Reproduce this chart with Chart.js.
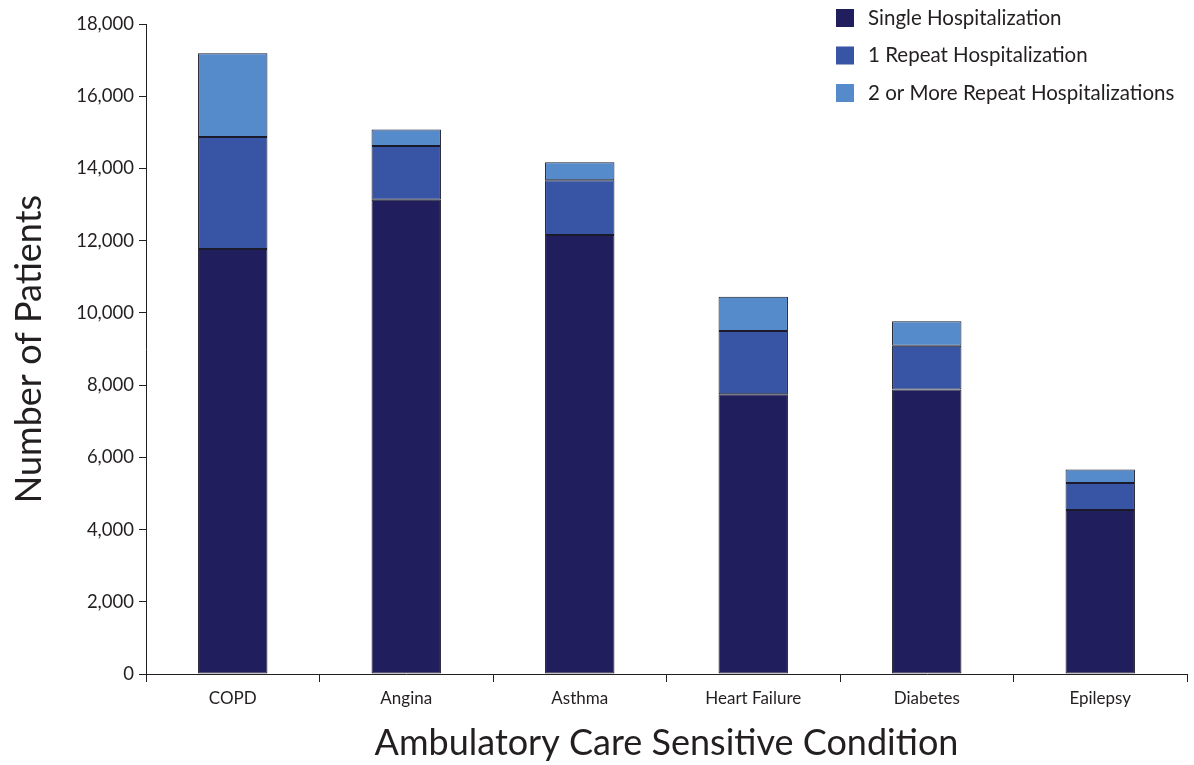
<!DOCTYPE html>
<html>
<head>
<meta charset="utf-8">
<script src="https://cdn.jsdelivr.net/npm/chart.js@4.4.0/dist/chart.umd.min.js"></script>
<style>
html,body{margin:0;padding:0;background:#fff;}
#wrap{width:1194px;height:765px;position:relative;}
</style>
</head>
<body>
<div id="wrap"><canvas id="c" width="1194" height="765"></canvas></div>
<script>
const categories = ["COPD", "Angina", "Asthma", "Heart Failure", "Diabetes", "Epilepsy"];
const singleHosp = [11770, 13130, 12160, 7750, 7880, 4540];
const oneRepeat = [3100, 1490, 1510, 1750, 1210, 750];
const twoPlusRepeat = [2320, 460, 500, 950, 680, 370];
const seriesNames = ["Single Hospitalization", "1 Repeat Hospitalization", "2 or More Repeat Hospitalizations"];
const yTicks = [0, 2000, 4000, 6000, 8000, 10000, 12000, 14000, 16000, 18000];

const FONT = "Lato, 'Open Sans', sans-serif";
const colors = ["#201E5C", "#3854A5", "#568BCB"];
const textColor = "#231F20";

const legendPlugin = {
  id: 'cornerLegend',
  afterDraw(chart) {
    const ctx = chart.ctx;
    ctx.save();
    ctx.font = "20.5px " + FONT;
    ctx.textBaseline = "middle";
    ctx.textAlign = "left";
    const x0 = 836, y0 = 18, step = 37.5, box = 18;
    chart.data.datasets.forEach((ds, i) => {
      const cy = y0 + i * step;
      ctx.fillStyle = ds.backgroundColor;
      ctx.fillRect(x0, cy - box / 2, box, box);
      ctx.fillStyle = textColor;
      ctx.fillText(ds.label, 868, cy);
    });
    ctx.restore();
  }
};

new Chart(document.getElementById('c'), {
  type: 'bar',
  data: {
    labels: categories,
    datasets: [
      { label: seriesNames[0], data: singleHosp, backgroundColor: colors[0] },
      { label: seriesNames[1], data: oneRepeat, backgroundColor: colors[1] },
      { label: seriesNames[2], data: twoPlusRepeat, backgroundColor: colors[2] }
    ].map(d => Object.assign(d, { borderColor: "#1a1a2a", borderWidth: 1, borderSkipped: false, categoryPercentage: 1, barPercentage: 0.4 }))
  },
  options: {
    responsive: false,
    animation: false,
    devicePixelRatio: 1,
    layout: { padding: { top: 24, right: 7, left: 8, bottom: 0 } },
    plugins: {
      legend: { display: false },
      tooltip: { enabled: false }
    },
    scales: {
      x: {
        stacked: true,
        offset: true,
        grid: { display: true, drawOnChartArea: false, offset: true, tickLength: 8, color: "#231F20", lineWidth: 1 },
        border: { display: true, color: "#231F20", width: 1 },
        ticks: { font: { family: FONT, size: 17 }, color: textColor, padding: 6 },
        title: { display: true, text: "Ambulatory Care Sensitive Condition", font: { family: FONT, size: 36 }, color: textColor, padding: { top: 4, bottom: 0 } },
        afterFit(scale) { scale.height = 765 - 674; }
      },
      y: {
        stacked: true,
        min: 0,
        max: 18000,
        afterBuildTicks(scale) { scale.ticks = yTicks.map(v => ({ value: v })); },
        grid: { display: true, drawOnChartArea: false, tickLength: 7, color: "#231F20", lineWidth: 1 },
        border: { display: true, color: "#231F20", width: 1 },
        ticks: {
          font: { family: FONT, size: 18.5 }, color: textColor, padding: 5,
          callback: v => v.toLocaleString('en-US')
        },
        title: { display: true, text: "Number of Patients", font: { family: FONT, size: 36 }, color: textColor, padding: { top: 0, bottom: 10 } },
        afterFit(scale) { scale.width = 138; }
      }
    }
  },
  plugins: [legendPlugin]
});
</script>
</body>
</html>
